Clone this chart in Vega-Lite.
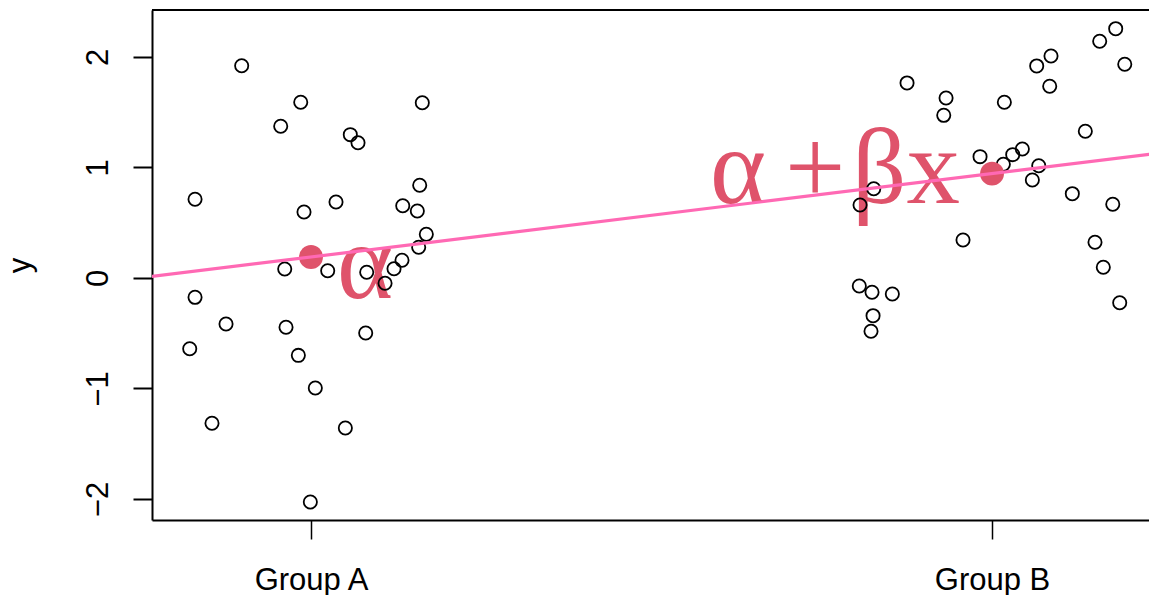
{
  "$schema": "https://vega.github.io/schema/vega-lite/v6.json",
  "autosize": "none",
  "width": 997,
  "height": 510,
  "padding": {"left": 152, "top": 10, "right": 0, "bottom": 75},
  "background": "white",
  "config": {"view": {"stroke": null}, "font": "Liberation Sans"},
  "datasets": {
    "pts": [
      {"x": -0.1018, "y": 1.921}, {"x": -0.0151, "y": 1.590}, {"x": 0.1634, "y": 1.586},
      {"x": -0.0445, "y": 1.373}, {"x": 0.0577, "y": 1.297}, {"x": 0.0690, "y": 1.224},
      {"x": -0.1703, "y": 0.712}, {"x": -0.0103, "y": 0.597}, {"x": 0.0367, "y": 0.688},
      {"x": 0.1347, "y": 0.654}, {"x": 0.1561, "y": 0.606}, {"x": 0.1596, "y": 0.839},
      {"x": 0.1693, "y": 0.395}, {"x": 0.1581, "y": 0.278}, {"x": 0.1336, "y": 0.160},
      {"x": 0.1219, "y": 0.084}, {"x": -0.0386, "y": 0.081}, {"x": 0.0245, "y": 0.066},
      {"x": 0.0818, "y": 0.052}, {"x": 0.1087, "y": -0.048}, {"x": -0.1703, "y": -0.175},
      {"x": -0.1248, "y": -0.416}, {"x": -0.0367, "y": -0.446}, {"x": 0.0803, "y": -0.498},
      {"x": -0.1781, "y": -0.640}, {"x": -0.0186, "y": -0.700}, {"x": 0.0063, "y": -0.995},
      {"x": -0.1454, "y": -1.315}, {"x": 0.0504, "y": -1.357}, {"x": -0.0010, "y": -2.027},
      {"x": 0.8752, "y": 1.765}, {"x": 0.9325, "y": 1.629}, {"x": 0.9291, "y": 1.472},
      {"x": 1.0181, "y": 1.590}, {"x": 1.0656, "y": 1.919}, {"x": 1.0866, "y": 2.009},
      {"x": 1.0847, "y": 1.735}, {"x": 1.1581, "y": 2.142}, {"x": 1.1816, "y": 2.256},
      {"x": 1.1949, "y": 1.934}, {"x": 1.1370, "y": 1.328}, {"x": 0.9824, "y": 1.098},
      {"x": 1.0166, "y": 1.029}, {"x": 1.0304, "y": 1.116}, {"x": 1.0445, "y": 1.167},
      {"x": 1.0686, "y": 1.016}, {"x": 1.0592, "y": 0.887}, {"x": 1.1179, "y": 0.763},
      {"x": 1.1773, "y": 0.667}, {"x": 0.8263, "y": 0.808}, {"x": 0.8062, "y": 0.661},
      {"x": 0.9574, "y": 0.344}, {"x": 1.1512, "y": 0.323}, {"x": 1.1634, "y": 0.097},
      {"x": 1.1875, "y": -0.224}, {"x": 0.8051, "y": -0.072}, {"x": 0.8238, "y": -0.129},
      {"x": 0.8536, "y": -0.145}, {"x": 0.8253, "y": -0.341}, {"x": 0.8223, "y": -0.482}
    ],
    "means": [{"x": 0, "y": 0.19}, {"x": 1, "y": 0.944}],
    "fit": [{"x": -0.3, "y": -0.0365}, {"x": 1.3, "y": 1.1715}],
    "top": [{"y": 2.425}],
    "leftlabels": [
      {"x": 0.0382, "y": -0.181, "label": "α"},
      {"x": 0.5859, "y": 0.679, "label": "α"},
      {"x": 0.6960, "y": 0.679, "label": "+"}
    ],
    "rightlabels": [
      {"x": 0.9530, "y": 0.679, "label": "βx"}
    ]
  },
  "layer": [
    {
      "data": {"name": "leftlabels"},
      "mark": {"type": "text", "font": "Liberation Serif", "fontSize": 107, "color": "#DF536B", "baseline": "alphabetic", "align": "left"},
      "encoding": {
        "x": {"field": "x", "type": "quantitative",
          "scale": {"domain": [-0.2335, 1.2305], "nice": false, "zero": false},
          "axis": {"orient": "bottom", "values": [0, 1], "labelExpr": "datum.value == 0 ? 'Group A' : 'Group B'",
            "title": null, "grid": false, "domainColor": "black", "domainWidth": 2, "tickColor": "black", "tickWidth": 1.5,
            "tickSize": 19, "labelFontSize": 31, "labelColor": "black", "labelBaseline": "alphabetic", "labelPadding": 50,
            "labelFont": "Liberation Sans", "labelFlush": false, "labelOverlap": false}},
        "y": {"field": "y", "type": "quantitative",
          "scale": {"domain": [-2.19, 2.425], "nice": false, "zero": false},
          "axis": {"values": [-2, -1, 0, 1, 2], "format": "d", "title": "y", "grid": false, "domainColor": "black", "domainWidth": 2,
            "tickColor": "black", "tickWidth": 2, "tickSize": 19, "labelFontSize": 31, "labelColor": "black",
            "labelAngle": -90, "labelAlign": "center", "labelBaseline": "alphabetic", "labelPadding": 26,
            "labelFont": "Liberation Sans", "labelFlush": false, "labelOverlap": false,
            "titleFont": "Liberation Sans", "titleFontSize": 31, "titleFontWeight": "normal", "titleColor": "black",
            "titleAngle": -90, "titleAlign": "center", "titleBaseline": "alphabetic", "titleX": -122.5, "titleY": 255}},
        "text": {"field": "label"}
      }
    },
    {
      "data": {"name": "rightlabels"},
      "mark": {"type": "text", "font": "Liberation Serif", "fontSize": 107, "color": "#DF536B", "baseline": "alphabetic", "align": "right"},
      "encoding": {
        "x": {"field": "x", "type": "quantitative"},
        "y": {"field": "y", "type": "quantitative"},
        "text": {"field": "label"}
      }
    },
    {
      "data": {"name": "pts"},
      "mark": {"type": "point", "shape": "circle", "filled": false, "color": "black", "strokeWidth": 1.8, "size": 175, "opacity": 1},
      "encoding": {
        "x": {"field": "x", "type": "quantitative"},
        "y": {"field": "y", "type": "quantitative"}
      }
    },
    {
      "data": {"name": "means"},
      "mark": {"type": "circle", "color": "#DF536B", "size": 572, "opacity": 1},
      "encoding": {
        "x": {"field": "x", "type": "quantitative"},
        "y": {"field": "y", "type": "quantitative"}
      }
    },
    {
      "data": {"name": "fit"},
      "mark": {"type": "line", "color": "#FF69B4", "strokeWidth": 3.2, "clip": true},
      "encoding": {
        "x": {"field": "x", "type": "quantitative"},
        "y": {"field": "y", "type": "quantitative"}
      }
    },
    {
      "data": {"name": "top"},
      "mark": {"type": "rule", "color": "black", "strokeWidth": 2},
      "encoding": {
        "y": {"field": "y", "type": "quantitative"}
      }
    }
  ]
}
